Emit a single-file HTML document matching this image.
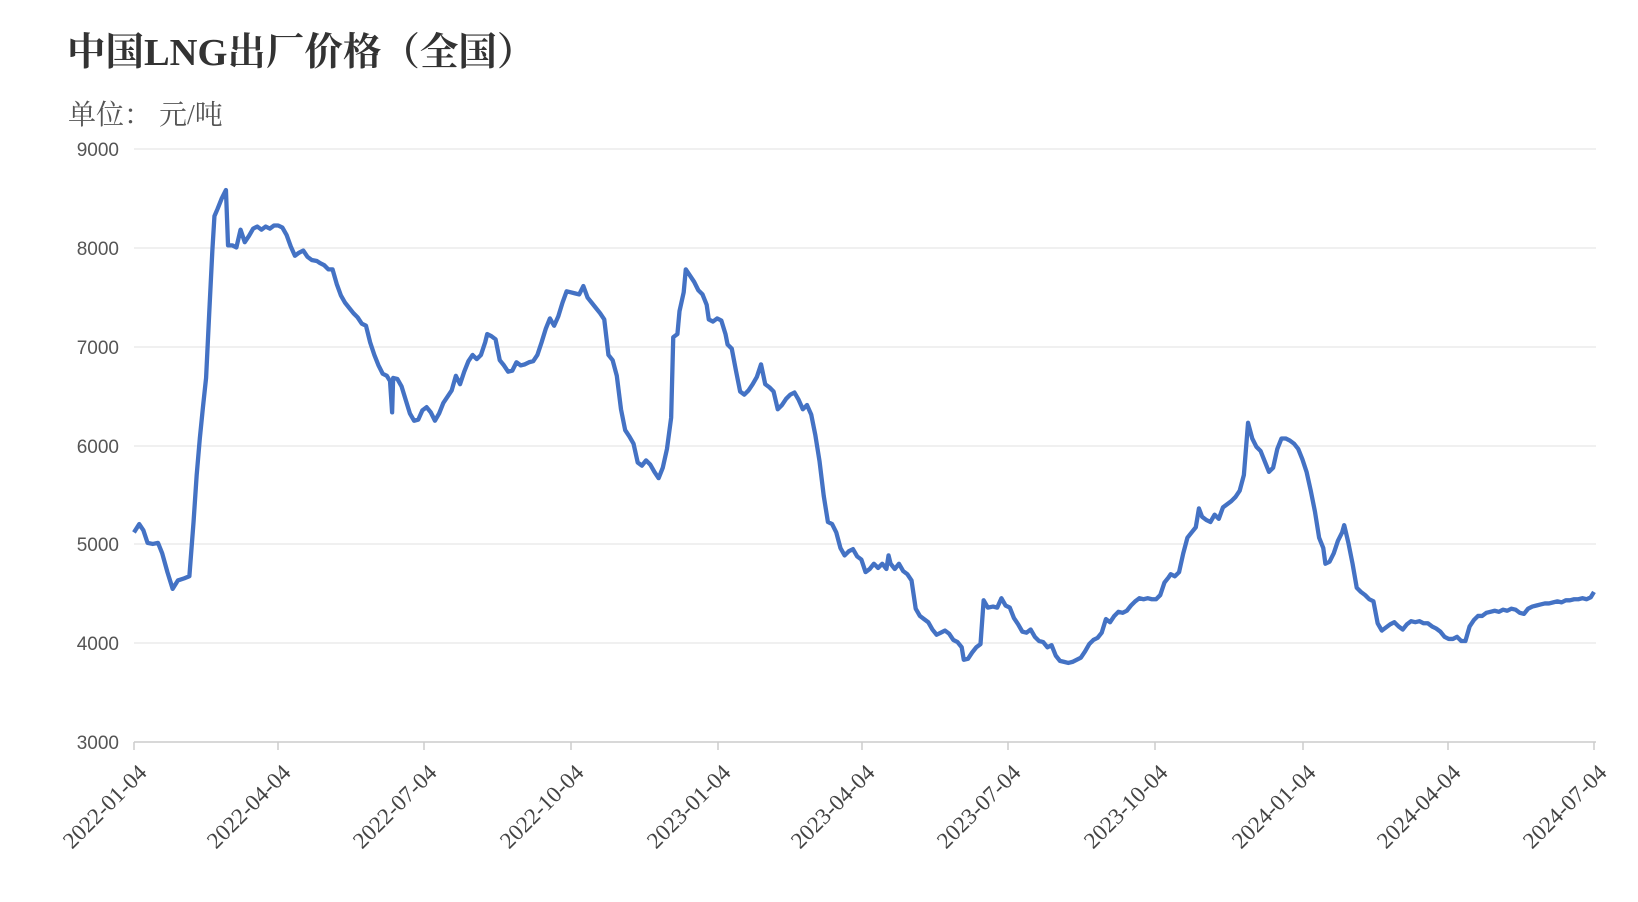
<!DOCTYPE html>
<html><head><meta charset="utf-8"><style>
html,body{margin:0;padding:0;background:#fff;}
body{width:1638px;height:902px;overflow:hidden;position:relative;}
.t{position:absolute;left:67px;top:22px;font-family:"Liberation Serif","Noto Serif CJK SC",serif;font-weight:bold;font-size:38.5px;color:#333;}
.u{position:absolute;left:68px;top:93px;font-family:"Liberation Serif","Noto Serif CJK SC",serif;font-size:28px;color:#555;}
</style></head><body>
<div class="t">中国LNG出厂价格（全国）</div>
<div class="u">单位：&nbsp;元/吨</div>
<svg width="1638" height="902" style="position:absolute;left:0;top:0">
<g stroke="#e6e6e6" stroke-width="1.2">
<line x1="134" x2="1596" y1="149" y2="149"/><line x1="134" x2="1596" y1="248" y2="248"/>
<line x1="134" x2="1596" y1="347" y2="347"/><line x1="134" x2="1596" y1="446" y2="446"/>
<line x1="134" x2="1596" y1="544" y2="544"/><line x1="134" x2="1596" y1="643" y2="643"/>
</g>
<line x1="134" x2="1596" y1="742" y2="742" stroke="#ccc" stroke-width="1.5"/>
<g stroke="#ccc" stroke-width="1.5">
<line x1="134" x2="134" y1="742" y2="750"/><line x1="278" x2="278" y1="742" y2="750"/><line x1="424" x2="424" y1="742" y2="750"/><line x1="571" x2="571" y1="742" y2="750"/><line x1="718" x2="718" y1="742" y2="750"/><line x1="862" x2="862" y1="742" y2="750"/><line x1="1008" x2="1008" y1="742" y2="750"/><line x1="1155" x2="1155" y1="742" y2="750"/><line x1="1303" x2="1303" y1="742" y2="750"/><line x1="1448" x2="1448" y1="742" y2="750"/><line x1="1594" x2="1594" y1="742" y2="750"/>
</g>
<g font-family="Liberation Sans, sans-serif" font-size="19" fill="#555" text-anchor="end">
<text x="119" y="156">9000</text><text x="119" y="255">8000</text><text x="119" y="354">7000</text><text x="119" y="453">6000</text><text x="119" y="551">5000</text><text x="119" y="650">4000</text><text x="119" y="749">3000</text>
</g>
<g font-family="Liberation Serif, serif" font-size="23" fill="#444" text-anchor="end">
<text transform="translate(148,774) rotate(-45)">2022-01-04</text>
<text transform="translate(292,774) rotate(-45)">2022-04-04</text>
<text transform="translate(438,774) rotate(-45)">2022-07-04</text>
<text transform="translate(585,774) rotate(-45)">2022-10-04</text>
<text transform="translate(732,774) rotate(-45)">2023-01-04</text>
<text transform="translate(876,774) rotate(-45)">2023-04-04</text>
<text transform="translate(1022,774) rotate(-45)">2023-07-04</text>
<text transform="translate(1169,774) rotate(-45)">2023-10-04</text>
<text transform="translate(1317,774) rotate(-45)">2024-01-04</text>
<text transform="translate(1462,774) rotate(-45)">2024-04-04</text>
<text transform="translate(1608,774) rotate(-45)">2024-07-04</text>
</g>
<g transform="translate(0.2,0) scale(1.0451,1.044)">
<polyline fill="none" stroke="#4472c4" stroke-width="4.3" stroke-linejoin="round" vector-effect="non-scaling-stroke" points="128,510 133,502 137,508 141,520 146,521 151,520 155,530 160,548 165,564 170,556 176,554 181,552 185,500 188,455 191,420 194,390 197,362 200,300 203,240 205,207 208,200 212,190 216,182 218,235 222,235 226,237 230,220 234,232 238,226 242,219 246,217 250,220 254,217 258,219 262,216 266,216 270,218 274,225 278,236 282,245 286,242 290,240 294,246 298,249 303,250 306,252 310,254 314,258 318,258 322,272 326,283 330,290 334,295 338,300 342,304 346,310 350,312 354,328 358,340 362,350 366,358 370,360 373,365 375,395 376,362 380,363 384,370 388,383 392,396 396,403 400,402 404,393 408,390 412,395 416,403 420,396 424,386 428,380 432,374 436,360 440,368 444,356 448,346 452,340 456,344 460,340 464,328 466,320 470,322 474,325 478,345 482,350 486,356 490,355 494,347 498,350 502,349 506,347 510,346 514,340 518,328 522,315 526,305 530,312 534,303 538,290 542,279 546,280 550,281 554,282 558,274 562,285 566,290 570,295 574,300 578,306 582,340 586,345 590,360 594,392 598,412 602,418 606,425 610,443 614,446 618,441 622,445 626,452 630,458 634,448 638,430 642,400 644,323 648,320 650,298 654,280 656,258 660,264 664,270 668,278 672,282 676,292 678,306 682,308 686,305 690,307 694,320 696,330 700,334 704,355 708,375 712,378 716,374 720,368 724,361 728,349 732,368 736,371 740,375 744,392 748,388 752,382 756,378 760,376 764,383 768,392 772,388 776,397 780,417 784,442 788,475 792,500 796,502 800,510 804,525 808,532 812,528 816,526 820,533 824,536 828,548 832,545 836,540 840,544 844,540 848,545 850,532 852,540 856,545 860,540 864,547 868,550 872,556 876,583 880,590 884,593 888,596 892,603 896,608 900,606 904,604 908,607 912,613 916,615 920,620 922,632 926,631 930,625 934,620 938,617 941,575 945,582 950,581 954,582 958,573 962,580 966,582 970,592 974,598 978,605 982,606 986,603 990,610 994,614 998,615 1002,620 1006,618 1010,628 1014,633 1018,634 1022,635 1026,634 1030,632 1034,630 1038,624 1042,617 1046,613 1050,611 1054,606 1058,593 1062,596 1066,590 1070,586 1074,587 1078,585 1082,580 1086,576 1090,573 1094,574 1098,573 1102,574 1106,574 1110,570 1114,558 1118,553 1120,550 1124,552 1128,548 1132,530 1136,515 1140,510 1144,505 1147,487 1150,495 1154,498 1158,500 1162,493 1166,497 1170,486 1174,483 1178,480 1182,476 1186,470 1190,455 1194,405 1198,420 1202,428 1206,432 1210,442 1214,452 1218,448 1222,430 1226,420 1230,420 1234,422 1238,425 1242,430 1246,440 1250,452 1254,470 1258,490 1262,515 1266,525 1268,540 1272,538 1276,530 1280,518 1284,510 1286,503 1290,520 1294,540 1298,563 1302,567 1306,570 1310,574 1314,576 1318,597 1322,604 1326,601 1330,598 1334,596 1338,600 1342,603 1346,598 1350,595 1354,596 1358,595 1362,597 1366,597 1370,600 1374,602 1378,605 1382,610 1386,612 1390,612 1394,610 1398,614 1402,614 1406,600 1410,594 1414,590 1418,590 1422,587 1426,586 1430,585 1434,586 1438,584 1442,585 1446,583 1450,584 1454,587 1458,588 1462,583 1466,581 1470,580 1474,579 1478,578 1482,578 1486,577 1490,576 1494,577 1498,575 1502,575 1506,574 1510,574 1514,573 1518,574 1522,572 1525,567"/>
</g>
</svg>
</body></html>
